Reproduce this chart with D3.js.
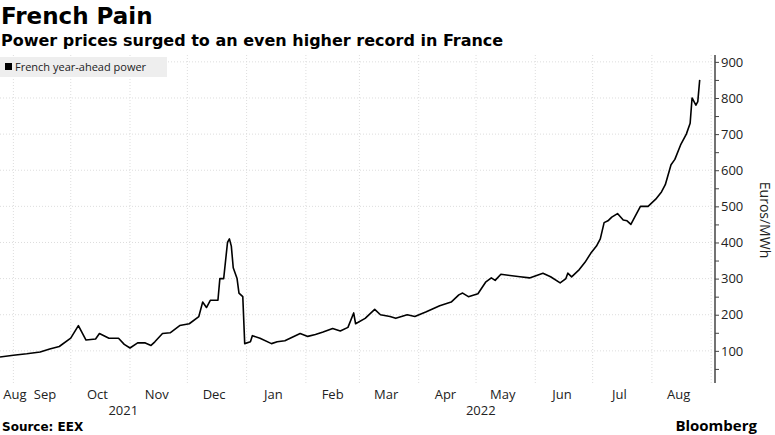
<!DOCTYPE html>
<html><head><meta charset="utf-8">
<script src="https://cdn.jsdelivr.net/npm/d3@7"></script>
<style>body{margin:0;background:#fff;font-family:"Open Sans",Lato,sans-serif}</style>
</head><body>
<script>
// French year-ahead power, Euros/MWh
const dates = ["2021-08-25","2021-09-01","2021-09-08","2021-09-15","2021-09-20","2021-09-25","2021-10-01","2021-10-05","2021-10-09","2021-10-14","2021-10-16","2021-10-21","2021-10-26","2021-10-29","2021-11-01","2021-11-05","2021-11-09","2021-11-12","2021-11-14","2021-11-18","2021-11-22","2021-11-27","2021-12-02","2021-12-07","2021-12-09","2021-12-11","2021-12-13","2021-12-17","2021-12-18","2021-12-20","2021-12-22","2021-12-23","2021-12-24","2021-12-25","2021-12-27","2021-12-28","2021-12-30","2021-12-31","2022-01-03","2022-01-04","2022-01-08","2022-01-14","2022-01-17","2022-01-21","2022-01-29","2022-02-02","2022-02-06","2022-02-10","2022-02-15","2022-02-19","2022-02-23","2022-02-26","2022-02-27","2022-03-04","2022-03-09","2022-03-12","2022-03-17","2022-03-20","2022-03-26","2022-03-30","2022-04-05","2022-04-12","2022-04-18","2022-04-22","2022-04-24","2022-04-27","2022-05-02","2022-05-06","2022-05-09","2022-05-11","2022-05-14","2022-05-24","2022-05-29","2022-06-05","2022-06-09","2022-06-14","2022-06-17","2022-06-18","2022-06-20","2022-06-24","2022-06-27","2022-06-30","2022-07-03","2022-07-05","2022-07-07","2022-07-09","2022-07-11","2022-07-14","2022-07-17","2022-07-19","2022-07-21","2022-07-23","2022-07-26","2022-07-30","2022-08-03","2022-08-06","2022-08-08","2022-08-11","2022-08-13","2022-08-16","2022-08-19","2022-08-21","2022-08-22","2022-08-24","2022-08-25","2022-08-26"];
const prices = [83,88,92,97,105,112,135,170,130,133,148,135,135,118,108,122,122,115,125,148,150,170,175,195,235,220,240,240,300,300,400,410,390,330,300,260,250,120,125,142,135,120,125,128,148,140,145,152,162,155,165,205,175,190,215,200,195,190,200,195,208,225,235,255,260,250,258,290,302,295,312,305,302,315,305,288,300,315,305,325,345,370,390,410,455,460,470,480,462,460,450,470,500,500,520,540,560,615,630,670,700,730,800,780,790,850];
const yTicks = [100,200,300,400,500,600,700,800,900];
const years = [{label:"2021", from:"2021-08-25", to:"2022-01-01"},{label:"2022", from:"2022-01-01", to:"2022-09-03"}];

const W = 775, H = 435;
const parse = d3.utcParse("%Y-%m-%d");
const data = dates.map((d, i) => ({date: parse(d), value: prices[i]}));

const x = d3.scaleUtc().domain([parse("2021-08-25"), parse("2022-09-03")]).range([0, 715]);
const y = d3.scaleLinear().domain([11, 919]).range([383, 55]);

const svg = d3.select("body").append("svg").attr("width", W).attr("height", H);

svg.append("text").attr("x", 1).attr("y", 24).attr("font-size", 23).attr("font-weight", "bold")
  .attr("font-family", "DejaVu Sans").attr("fill", "#000").text("French Pain");
svg.append("text").attr("x", 1).attr("y", 46).attr("font-size", 16).attr("font-weight", "bold")
  .attr("font-family", "DejaVu Sans").attr("fill", "#000").text("Power prices surged to an even higher record in France");

// gridlines
const months = d3.utcMonth.range(parse("2021-09-01"), parse("2022-09-02"));
svg.append("g").selectAll("line").data(months).join("line")
  .attr("x1", d => x(d)).attr("x2", d => x(d)).attr("y1", 55).attr("y2", 383)
  .attr("stroke", "#ddd").attr("stroke-dasharray", "1,2");
svg.append("g").selectAll("line").data(yTicks).join("line")
  .attr("x1", 0).attr("x2", 715).attr("y1", d => y(d)).attr("y2", d => y(d))
  .attr("stroke", "#ddd").attr("stroke-dasharray", "1,2");

// legend
svg.append("rect").attr("x", 0).attr("y", 57).attr("width", 167).attr("height", 20).attr("fill", "#eee");
svg.append("rect").attr("x", 5).attr("y", 63).attr("width", 7).attr("height", 7).attr("fill", "#000");
svg.append("text").attr("x", 15).attr("y", 71).attr("font-size", 11).attr("fill", "#222").text("French year-ahead power");

// line
svg.append("path").datum(data)
  .attr("d", d3.line().x(d => x(d.date)).y(d => y(d.value)))
  .attr("fill", "none").attr("stroke", "#000").attr("stroke-width", 1.6).attr("stroke-linejoin", "round");

// y axis
const ya = svg.append("g").attr("transform", "translate(715,0)")
  .call(d3.axisRight(y).tickValues(d3.range(50, 919, 50)).tickSize(4)
    .tickFormat(d => d % 100 === 0 ? d : ""));
ya.select(".domain").attr("stroke", "#444").attr("stroke-width", 1.5).attr("d", "M0,55V383");
ya.selectAll(".tick line").attr("stroke", "#444");
ya.selectAll("text").attr("font-size", 13).attr("fill", "#222").attr("x", 6).attr("font-family", "Open Sans");
svg.append("text").attr("transform", "translate(760,220) rotate(90)").attr("text-anchor", "middle")
  .attr("font-size", 14).attr("fill", "#222").text("Euros/MWh");

// x labels at mid-month
const labelMonths = d3.utcMonth.range(parse("2021-08-01"), parse("2022-09-01"));
svg.append("g").selectAll("text").data(labelMonths).join("text")
  .attr("x", (d, i) => i === 0 ? 15 : i === 1 ? 45 : x(d3.utcDay.offset(d, 14)))
  .attr("y", 399).attr("text-anchor", "middle").attr("font-size", 13).attr("fill", "#222")
  .text(d => d3.utcFormat("%b")(d));
svg.append("g").selectAll("text").data(years).join("text")
  .attr("x", d => (x(parse(d.from)) + x(parse(d.to))) / 2)
  .attr("y", 415).attr("text-anchor", "middle").attr("font-size", 13).attr("fill", "#222")
  .text(d => d.label);

svg.append("text").attr("x", 2).attr("y", 431).attr("font-size", 12).attr("font-weight", "bold")
  .attr("font-family", "DejaVu Sans").attr("fill", "#000").text("Source: EEX");
svg.append("text").attr("x", 757).attr("y", 431).attr("text-anchor", "end").attr("font-size", 15)
  .attr("font-weight", "bold").attr("fill", "#000").text("Bloomberg");
</script>
</body></html>
